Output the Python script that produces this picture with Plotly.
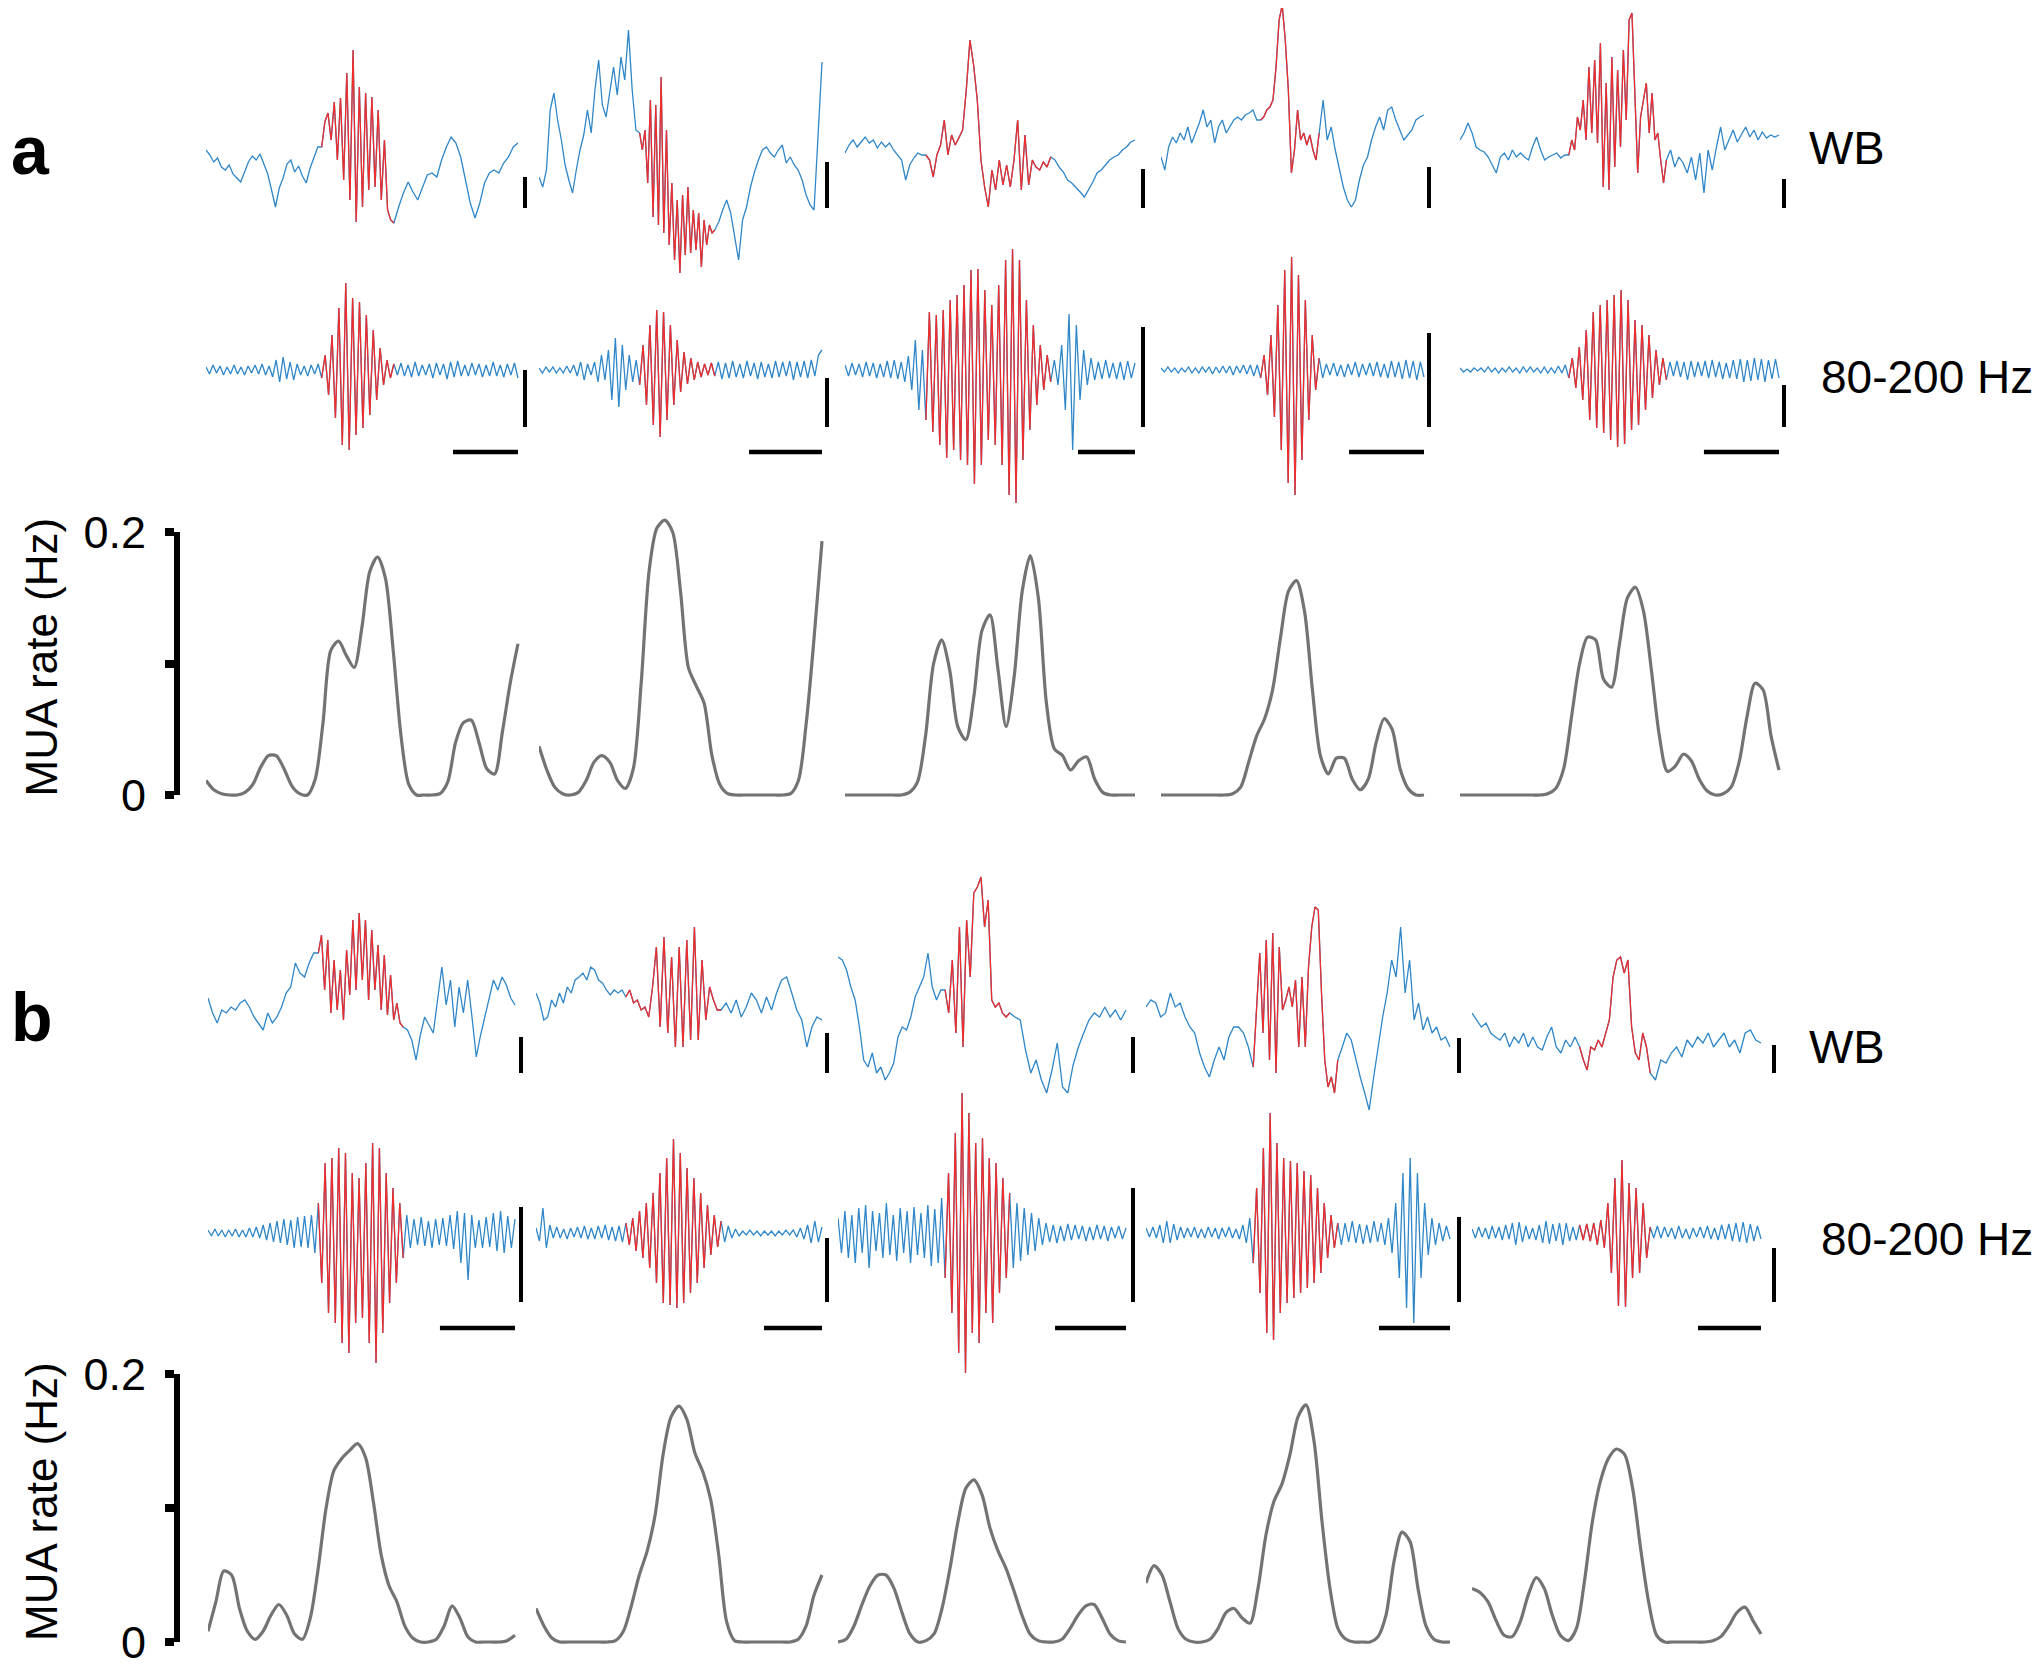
import numpy as np
import plotly.graph_objects as go

W, H = 2041, 1669
FONT = "Liberation Sans, Arial, sans-serif"
BLUE = "#2f86c8"
RED = "#ef2d2d"
GREY = "#737373"

# time base of each example (ms) and ripple event window (onset, offset, ms)
A_DUR = [480, 388, 509, 351, 425]
A_EVENT = [(178, 289), (138, 241), (142, 361), (133, 211), (145, 275)]
B_DUR = [409, 493, 406, 428, 459]
B_EVENT = [(147, 260), (155, 319), (151, 242), (151, 270), (171, 283)]
TIME_BAR_MS = 100

# vertical scale bar lengths (display units)
A_WB_BAR = [31, 46, 39, 41, 29]
A_RIP_BAR = [57, 49, 100, 94, 42]
B_WB_BAR = [36, 40, 36, 35, 28]
B_RIP_BAR = [95, 64, 114, 85, 54]

# wide-band traces: [before event, during event, after event]
a_wb1 = [[0, -5, -12, -8, -17, -20, -15, -24, -28, -32, -22, -12, -6, -10, -4, -14, -24, -40, -57, -38, -28, -14, -10, -22, -16, -26, -33, -18, -8, 3],
         [3, 28, 37, 10, 48, -10, 52, -30, 77, -50, 100, -72, 63, -57, 57, -40, 53, -37, 40, -50, 10, -60, -70],
         [-73, -57, -43, -32, -42, -50, -37, -25, -23, -27, -10, 3, 13, 7, -7, -30, -53, -68, -53, -33, -23, -20, -23, -13, -7, 3, 7]]
a_wb2 = [[-27, -37, -20, 40, 57, 30, 10, -15, -30, -43, -20, 0, 15, 40, 17, 60, 90, 45, 33, 60, 83, 55, 93, 70, 120, 60, 20],
         [17, 0, 20, -33, 50, -67, 45, -75, 73, -83, 20, -95, -33, -110, -50, -123, -45, -105, -37, -103, -60, -100, -63, -117, -70, -95, -75, -83],
         [-80, -72, -60, -50, -63, -85, -110, -70, -57, -37, -22, -10, 0, 3, -3, -7, 0, 5, -13, -7, -15, -20, -30, -45, -55, -60, 20, 88]]
a_wb3 = [[-3, 5, 10, 3, 8, 13, 7, 10, 2, 8, 3, 7, 0, -5, -10, -30, -15, -8, -3, -5],
         [-5, -10, -27, -5, 5, 30, -5, 15, 5, 12, 20, 60, 110, 85, 50, -10, -37, -57, -20, -40, -10, -35, -15, -37, -10, 30, -40, 15, -35, -10, -17, -20, -12, -17],
         [-7, -10, -17, -22, -30, -33, -37, -42, -47, -40, -32, -23, -20, -15, -10, -7, -5, 0, 3, 8, 10]]
a_wb4 = [[-7, -20, 3, 13, 7, 17, 10, 23, 7, 17, 27, 40, 23, 30, 7, 23, 30, 17, 23, 30, 33, 30, 35, 37, 40, 30],
         [30, 33, 40, 43, 50, 83, 130, 145, 110, 60, -23, 0, 40, 10, 17, 5, 15, 0, -10],
         [17, 50, 10, 23, 0, -17, -37, -50, -57, -50, -30, -15, -7, 10, 23, 33, 20, 40, 43, 30, 20, 10, 15, 20, 30, 33, 35]]
a_wb5 = [[10, 17, 27, 17, 3, 0, -2, -7, -15, -23, -7, -3, -10, 0, -7, -3, -7, -10, 3, 13, 0, -10, -7, -5, -3, -8, -5],
         [-5, 10, 0, 33, 20, 50, 10, 83, 17, 90, 7, 107, -37, 67, -40, 93, -17, 80, 3, 100, 30, 130, 137, 50, -23, 33, 50, 67, 17, 57, 10, 17, -10, -33],
         [-10, 0, -17, -7, -13, -23, -7, -30, -3, -43, 0, -20, 3, 23, 0, 10, 20, 8, 15, 23, 13, 20, 10, 18, 12, 15, 13, 15]]

b_wb1 = [[12, -3, -13, 0, -3, 3, 0, 7, 10, 3, -7, -13, -20, -3, -13, -7, 3, 17, 23, 47, 37, 33, 47, 57],
         [57, 75, 20, 70, -3, 50, 0, 40, -10, 60, 15, 90, 20, 97, 30, 90, 10, 80, 20, 65, 0, 55, -5, 35, -10, 7, -13],
         [-17, -20, -30, -50, -25, -7, -15, -23, 10, 43, 5, 30, -17, 23, -3, 30, -7, -47, -25, -7, 10, 30, 20, 33, 25, 12, 5]]
b_wb2 = [[17, 7, -10, -7, 10, 3, 17, 7, 23, 17, 30, 33, 37, 30, 43, 40, 30, 27, 20, 15, 20, 17, 20],
         [13, 20, 7, 10, 0, 3, -7, 23, 63, -17, 73, -23, 53, -37, 63, -37, 70, -30, 83, -30, 50, -10, 23, 10, 0],
         [0, 7, -3, 10, -7, 3, 17, 10, -3, 13, 0, 17, 30, 33, 17, 0, -10, -37, -17, -7, -10]]
b_wb3 = [[53, 50, 40, 23, 10, -17, -50, -57, -43, -63, -57, -70, -63, -53, -27, -17, -20, -7, 13, 23, 33, 57, 23, 10, 20],
         [20, -3, 50, -23, 83, -37, 90, 33, 117, 123, 133, 83, 110, 10, 3, 7, -3, -7],
         [-3, -7, -10, -40, -63, -50, -70, -83, -60, -33, -77, -83, -55, -37, -23, -10, -3, -7, 3, -7, 0, -10, 0]]
b_wb4 = [[3, 10, 7, -7, -3, 17, 3, 7, -7, -17, -23, -43, -57, -67, -50, -37, -50, -27, -17, -17, -23, -37],
         [-57, 0, 57, -23, 70, -50, 77, -63, 63, 0, 10, 23, 3, 30, -37, 33, -37, 43, 83, 103, 100, 17, -50, -77, -67, -83],
         [-50, -37, -23, -30, -50, -67, -83, -100, -67, -37, -7, 17, 50, 33, 83, 17, 50, -10, 7, -20, -7, -23, -17, -30, -27, -37]]
b_wb5 = [[-3, -10, -17, -13, -23, -27, -30, -23, -37, -27, -33, -23, -37, -27, -37, -40, -27, -17, -37, -43, -30, -37, -27],
         [-37, -50, -60, -37, -40, -30, -37, -23, -10, 33, 50, 53, 37, 50, -17, -43, -50, -23, -37],
         [-63, -70, -50, -53, -43, -37, -47, -30, -37, -27, -33, -23, -37, -30, -23, -37, -30, -43, -23, -20, -30, -33]]

# 80-200 Hz filtered traces: [before, during, after]
a_rip1 = [[3, -4, 5, -3, 4, -5, 3, -4, 5, -4, 3, -5, 4, -3, 5, -4, 6, -5, 4, -7, 10, -12, 13, -9, 8, -10, 6, -5, 4, -6, 5, -4, 6],
          [-8, 15, -25, 35, -48, 62, -75, 87, -80, 72, -65, 68, -58, 55, -45, 40, -30, 22, -15, 10, -8],
          [6, -5, 7, -6, 5, -7, 8, -6, 5, -5, 6, -8, 7, -5, 6, -9, 8, -7, 9, -6, 5, -6, 7, -5, 6, -7, 5, -6, 8, -6, 5, -7, 6, -5, 7, -8]]
a_rip2 = [[2, -3, 3, -2, 3, -3, 2, -3, 4, -3, 5, -6, 8, -10, 6, -5, 8, -12, 15, -10, 20, -30, 32, -37, 25, -20, 15, -12, 10],
          [-15, 25, -35, 45, -55, 60, -67, 58, -50, 45, -35, 30, -22, 18, -14, 12, -10, 8, -7, 6, -5, 7],
          [-6, 8, -9, 7, -8, 9, -7, 6, -8, 9, -6, 7, -9, 8, -7, 6, -8, 9, -7, 8, -6, 9, -10, 8, -7, 9, -8, 10, -6, 15, 20]]
a_rip3 = [[5, -6, 7, -5, 6, -7, 8, -6, 7, -8, 6, -7, 9, -8, 10, -9, 8, -12, 14, -20, 30, -40, 20],
          [-50, 58, -62, 55, -75, 60, -88, 70, -80, 75, -90, 85, -95, 100, -114, 101, -95, 80, -70, 65, -75, 85, -95, 110, -125, 121, -133, 110, -90, 70, -60, 45, -35, 25, -20, 15],
          [-12, 10, -15, 25, -40, 56, -80, 45, -30, 20, -15, 12, -10, 8, -9, 10, -8, 7, -9, 8, -10, 9, -8, 7]]
a_rip4 = [[2, -2, 3, -2, 2, -3, 2, -2, 3, -3, 2, -3, 3, -2, 3, -4, 3, -3, 4, -3, 4, -5, 4, -3, 5, -4, 5, -6, 5],
          [-8, 15, -25, 35, -47, 65, -80, 100, -113, 113, -125, 95, -90, 70, -50, 35, -20],
          [12, -8, 6, -5, 7, -6, 5, -7, 6, -5, 8, -7, 6, -5, 7, -6, 8, -7, 6, -8, 9, -7, 8, -9, 10, -8, 9, -10, 8, -7]]
a_rip5 = [[2, -2, 1, -2, 2, -1, 2, -2, 3, -2, 2, -3, 2, -2, 3, -2, 2, -3, 3, -2, 3, -2, 2, -3, 3, -3, 2, -3, 4, -3, 5],
          [-8, 12, -18, 23, -30, 40, -50, 58, -58, 65, -63, 70, -70, 75, -77, 80, -74, 70, -60, 50, -55, 45, -40, 35, -28, 20, -15, 12],
          [-10, 8, -6, 9, -7, 8, -10, 9, -7, 8, -6, 9, -8, 10, -7, 8, -9, 7, -8, 10, -9, 11, -12, 10, -11, 12, -10, 11, -12, 10, -9, 11, -8]]

b_rip1 = [[3, -3, 4, -3, 3, -4, 3, -3, 4, -4, 3, -4, 5, -4, 6, -5, 8, -7, 10, -9, 12, -10, 14, -12, 13, -15, 16, -14, 17, -15, 18, -20],
          [30, -50, 70, -80, 75, -90, 85, -110, 80, -120, 60, -90, 55, -85, 70, -110, 90, -130, 85, -100, 60, -70, 45, -50, 30],
          [-25, 18, -15, 14, -12, 16, -13, 12, -15, 14, -12, 15, -13, 18, -16, 22, -30, 20, -47, 18, -15, 13, -15, 16, -14, 20, -18, 22, -20, 17, -15, 14]]
b_rip2 = [[5, -8, 25, -15, 8, -5, 6, -5, 4, -6, 5, -4, 6, -5, 7, -6, 5, -6, 7, -5, 8, -7, 6, -8, 7, -9],
          [10, -12, 15, -18, 22, -25, 30, -35, 40, -50, 60, -70, 75, -72, 94, -75, 80, -70, 65, -60, 55, -50, 40, -35, 28, -22, 18, -14],
          [12, -9, 7, -5, 4, -3, 2, -2, 3, -2, 2, -3, 2, -2, 2, -3, 2, -2, 3, -2, 3, -4, 5, -6, 8, -10, 12, -9, 6]]
b_rip3 = [[15, -20, 22, -25, 18, -30, 25, -20, 28, -35, 22, -18, 20, -25, 30, -22, 18, -28, 25, -20, 22, -30, 26, -22, 20, -25, 28, -33, 24, -30, 35],
          [-45, 60, -80, 100, -120, 140, -140, 120, -100, 90, -110, 95, -80, 75, -90, 70, -60, 55, -45],
          [40, -35, 30, -28, 25, -22, 20, -18, 15, -12, 10, -9, 8, -10, 7, -8, 9, -7, 8, -6, 7, -8, 6, -7, 8, -6, 7, -8, 6, -5, 7, -6, 5]]
b_rip4 = [[5, -4, 6, -5, 8, -10, 12, -10, 9, -7, 6, -5, 5, -4, 6, -5, 4, -5, 6, -4, 5, -6, 5, -4, 6, -5, 4, -6, 8, -10, 15],
          [-30, 45, -60, 85, -100, 120, -107, 90, -80, 75, -70, 72, -65, 70, -60, 62, -55, 58, -50, 45, -40, 30, -25, 18, -15],
          [10, -12, 10, -9, 12, -10, 9, -11, 8, -10, 12, -9, 10, -12, 15, -20, 30, -45, 60, -75, 75, -90, 60, -45, 30, -22, 15, -12, 10, -8, 7, -6]]
b_rip5 = [[4, -5, 6, -4, 5, -6, 7, -5, 6, -7, 8, -6, 10, -12, 11, -9, 7, -6, 5, -7, 8, -10, 12, -11, 9, -8, 10, -12, 10, -8, 6, -7],
          [8, -7, 9, -8, 10, -12, 13, -15, 30, -40, 55, -73, 73, -74, 50, -45, 45, -40, 30, -25],
          [6, -5, 7, -5, 6, -4, 5, -6, 7, -5, 4, -6, 5, -4, 6, -5, 7, -6, 5, -7, 8, -6, 9, -8, 10, -9, 11, -10, 9, -8, 7, -6]]

# MUA rate (Hz), evenly sampled over each example
a_mua1 = [0.011, 0.004, 0.001, 0.0, 0.0, 0.002, 0.008, 0.021, 0.030, 0.030, 0.020, 0.007, 0.001, 0.0, 0.012, 0.055, 0.110, 0.117, 0.106, 0.097, 0.128,
          0.170, 0.181, 0.165, 0.110, 0.045, 0.008, 0.0, 0.0, 0.0, 0.001, 0.010, 0.040, 0.055, 0.057, 0.040, 0.020, 0.016, 0.048, 0.085, 0.115]
a_mua2 = [0.037, 0.019, 0.006, 0.001, 0.0, 0.002, 0.011, 0.025, 0.030, 0.025, 0.011, 0.005, 0.020, 0.085, 0.170, 0.203, 0.209, 0.200, 0.155, 0.097,
          0.083, 0.070, 0.030, 0.008, 0.001, 0.0, 0.0, 0.0, 0.0, 0.0, 0.0, 0.0, 0.001, 0.011, 0.055, 0.120, 0.193]
a_mua3 = [0.0, 0.0, 0.0, 0.0, 0.0, 0.0, 0.0, 0.0, 0.002, 0.010, 0.045, 0.100, 0.118, 0.095, 0.052, 0.042, 0.075, 0.125, 0.137, 0.095, 0.052,
          0.090, 0.155, 0.182, 0.150, 0.070, 0.035, 0.030, 0.019, 0.026, 0.029, 0.012, 0.002, 0.0, 0.0, 0.0, 0.0]
a_mua4 = [0.0, 0.0, 0.0, 0.0, 0.0, 0.0, 0.0, 0.0, 0.0, 0.001, 0.006, 0.025, 0.045, 0.058, 0.080, 0.120, 0.155, 0.163, 0.140, 0.080, 0.030,
          0.016, 0.028, 0.028, 0.012, 0.004, 0.012, 0.040, 0.058, 0.050, 0.020, 0.005, 0.0, 0.0]
a_mua5 = [0.0, 0.0, 0.0, 0.0, 0.0, 0.0, 0.0, 0.0, 0.0, 0.0, 0.0, 0.001, 0.005, 0.020, 0.060, 0.100, 0.120, 0.118, 0.088, 0.082, 0.115,
          0.150, 0.158, 0.140, 0.095, 0.045, 0.018, 0.022, 0.031, 0.026, 0.012, 0.003, 0.0, 0.001, 0.006, 0.025, 0.060, 0.085, 0.080, 0.045, 0.019]

b_mua1 = [0.008, 0.030, 0.053, 0.050, 0.025, 0.008, 0.002, 0.008, 0.020, 0.028, 0.020, 0.006, 0.002, 0.018, 0.055, 0.100, 0.128, 0.137, 0.143,
          0.148, 0.138, 0.105, 0.065, 0.042, 0.030, 0.012, 0.003, 0.0, 0.0, 0.002, 0.012, 0.027, 0.018, 0.004, 0.0, 0.0, 0.0, 0.0, 0.001, 0.005]
b_mua2 = [0.025, 0.012, 0.003, 0.0, 0.0, 0.0, 0.0, 0.0, 0.0, 0.0, 0.001, 0.008, 0.027, 0.050, 0.068, 0.095, 0.140, 0.168, 0.176, 0.166, 0.141,
          0.127, 0.106, 0.065, 0.015, 0.001, 0.0, 0.0, 0.0, 0.0, 0.0, 0.0, 0.0, 0.002, 0.012, 0.035, 0.050]
b_mua3 = [0.0, 0.002, 0.012, 0.028, 0.042, 0.050, 0.050, 0.040, 0.022, 0.006, 0.0, 0.001, 0.006, 0.025, 0.055, 0.090, 0.115, 0.121, 0.110,
          0.085, 0.068, 0.055, 0.038, 0.020, 0.006, 0.001, 0.0, 0.0, 0.002, 0.010, 0.020, 0.027, 0.028, 0.018, 0.006, 0.001, 0.0]
b_mua4 = [0.044, 0.057, 0.050, 0.030, 0.010, 0.002, 0.0, 0.0, 0.002, 0.010, 0.022, 0.025, 0.018, 0.014, 0.040, 0.080, 0.105, 0.118, 0.140,
          0.168, 0.177, 0.150, 0.090, 0.040, 0.010, 0.002, 0.0, 0.0, 0.0, 0.004, 0.020, 0.060, 0.082, 0.075, 0.040, 0.012, 0.002, 0.0, 0.0]
b_mua5 = [0.040, 0.037, 0.030, 0.016, 0.005, 0.004, 0.015, 0.035, 0.048, 0.040, 0.020, 0.005, 0.001, 0.010, 0.045, 0.090, 0.120, 0.137, 0.144,
          0.140, 0.115, 0.070, 0.030, 0.005, 0.0, 0.0, 0.0, 0.0, 0.0, 0.0, 0.001, 0.004, 0.012, 0.022, 0.026, 0.016, 0.006]

# ---- placement (pixels of the photographed page) ----
OFF_X, OFF_Y = 9, 8   # page margin around the plot div
PANELS = [
    dict(label="a", label_y=150,
         cols=[(207, 519, 526), (540, 823, 828), (846, 1136, 1144), (1162, 1425, 1430), (1461, 1780, 1785)],
         dur=A_DUR, event=A_EVENT, wb=[a_wb1, a_wb2, a_wb3, a_wb4, a_wb5],
         rip=[a_rip1, a_rip2, a_rip3, a_rip4, a_rip5], mua=[a_mua1, a_mua2, a_mua3, a_mua4, a_mua5],
         wb_bar=A_WB_BAR, rip_bar=A_RIP_BAR,
         wb_base=150, rip_base=370, wb_bar_bottom=208, rip_bar_bottom=427, hbar_y=452,
         mua_zero=795, mua_top=532, wb_text_y=148, rip_text_y=377),
    dict(label="b", label_y=1017,
         cols=[(209, 516, 522), (537, 823, 828), (839, 1127, 1134), (1147, 1451, 1460), (1473, 1762, 1775)],
         dur=B_DUR, event=B_EVENT, wb=[b_wb1, b_wb2, b_wb3, b_wb4, b_wb5],
         rip=[b_rip1, b_rip2, b_rip3, b_rip4, b_rip5], mua=[b_mua1, b_mua2, b_mua3, b_mua4, b_mua5],
         wb_bar=B_WB_BAR, rip_bar=B_RIP_BAR,
         wb_base=1010, rip_base=1233, wb_bar_bottom=1073, rip_bar_bottom=1302, hbar_y=1328,
         mua_zero=1642, mua_top=1374, wb_text_y=1046, rip_text_y=1239),
]
MUA_AXIS_X = 178


def px(x):
    return (x - OFF_X) / W


def py(y):
    return 1 - (y - OFF_Y) / H


def axname(kind, n):
    return f"{kind}axis" if n == 1 else f"{kind}axis{n}"


def axref(kind, n):
    return kind if n == 1 else f"{kind}{n}"


def split_trace(pieces, dur, on, off):
    pre, ev, post = pieces
    t = np.concatenate([np.linspace(0, on, len(pre), endpoint=False),
                        np.linspace(on, off, len(ev), endpoint=False),
                        np.linspace(off, dur, len(post))])
    y = np.array(pre + ev + post, dtype=float)
    i0, i1 = len(pre), len(pre) + len(ev) + 1
    return t, y, t[i0:i1], y[i0:i1]


fig = go.Figure()
layout = {}
annotations = []

for p, P in enumerate(PANELS):
    yw, yr, ym, yd = 1 + 4 * p, 2 + 4 * p, 3 + 4 * p, 4 + 4 * p
    wb0 = P["wb_base"] - OFF_Y
    rp0 = P["rip_base"] - OFF_Y
    mz0 = P["mua_zero"] - OFF_Y
    layout[axname("y", yw)] = dict(domain=[0, 1], range=[wb0 - H, wb0], visible=False)
    layout[axname("y", yr)] = dict(domain=[0, 1], range=[rp0 - H, rp0], visible=False)
    k = 0.2 / (P["mua_zero"] - P["mua_top"])
    layout[axname("y", ym)] = dict(domain=[0, 1], range=[(mz0 - H) * k, mz0 * k], visible=False)
    layout[axname("y", yd)] = dict(
        domain=[py(P["mua_zero"]), py(P["mua_top"])], range=[0, 0.2],
        anchor="free", position=px(MUA_AXIS_X), side="left", automargin=False,
        showline=True, linewidth=6, linecolor="black", showgrid=False, zeroline=False,
        ticks="outside", ticklen=9, tickwidth=8, tickcolor="black", ticklabelstandoff=10,
        tickvals=[0, 0.1, 0.2], ticktext=["0", "", "0.2"],
        tickfont=dict(size=45, family=FONT, color="black"))

    for i in range(5):
        xn = 1 + 5 * p + i
        x0, x1, xb = P["cols"][i]
        dur = P["dur"][i]
        on, off = P["event"][i]
        mspp = dur / (x1 - x0)
        right = xb + 6
        layout[axname("x", xn)] = dict(domain=[px(x0), px(right)], range=[0, (right - x0) * mspp],
                                      visible=False, anchor=axref("y", yw), automargin=False)
        xr = axref("x", xn)

        for pieces, yn in ((P["wb"][i], yw), (P["rip"][i], yr)):
            t, y, te, ye = split_trace(pieces, dur, on, off)
            fig.add_trace(go.Scatter(x=t, y=y, mode="lines", line=dict(color=BLUE, width=1.3),
                                     xaxis=xr, yaxis=axref("y", yn), hoverinfo="skip"))
            fig.add_trace(go.Scatter(x=te, y=ye, mode="lines", line=dict(color=RED, width=1.3),
                                     xaxis=xr, yaxis=axref("y", yn), hoverinfo="skip"))

        mua = P["mua"][i]
        fig.add_trace(go.Scatter(x=np.linspace(0, dur, len(mua)), y=mua, mode="lines",
                                 line=dict(color=GREY, width=3.2, shape="spline", smoothing=0.8),
                                 xaxis=xr, yaxis=axref("y", ym), hoverinfo="skip"))

        # scale bars
        xbar = (xb - x0) * mspp
        wb_bot = P["wb_base"] - P["wb_bar_bottom"]
        fig.add_trace(go.Scatter(x=[xbar, xbar], y=[wb_bot, wb_bot + P["wb_bar"][i]], mode="lines",
                                 line=dict(color="black", width=4), xaxis=xr, yaxis=axref("y", yw),
                                 hoverinfo="skip"))
        rip_bot = P["rip_base"] - P["rip_bar_bottom"]
        fig.add_trace(go.Scatter(x=[xbar, xbar], y=[rip_bot, rip_bot + P["rip_bar"][i]], mode="lines",
                                 line=dict(color="black", width=4), xaxis=xr, yaxis=axref("y", yr),
                                 hoverinfo="skip"))
        hy = P["rip_base"] - P["hbar_y"]
        fig.add_trace(go.Scatter(x=[dur - TIME_BAR_MS, dur], y=[hy, hy], mode="lines",
                                 line=dict(color="black", width=4.5), xaxis=xr, yaxis=axref("y", yr),
                                 hoverinfo="skip"))

    # invisible trace so the MUA rate axis is drawn
    fig.add_trace(go.Scatter(x=[0], y=[0], mode="markers", marker=dict(opacity=0),
                             xaxis=axref("x", 1 + 5 * p), yaxis=axref("y", yd), hoverinfo="skip"))

    annotations += [
        dict(text="<b>%s</b>" % P["label"], x=px(OFF_X + 1), y=py(P["label_y"]), xanchor="left", yanchor="middle",
             font=dict(size=68, family=FONT, color="black")),
        dict(text="WB", x=px(1808), y=py(P["wb_text_y"]), xanchor="left", yanchor="middle",
             font=dict(size=47, family=FONT, color="black")),
        dict(text="80-200 Hz", x=px(2036), y=py(P["rip_text_y"]), xanchor="right", yanchor="middle",
             font=dict(size=46, family=FONT, color="black")),
        dict(text="MUA rate (Hz)", textangle=-90, x=px(42),
             y=py((P["mua_zero"] + P["mua_top"]) / 2 - 6), xanchor="center", yanchor="middle",
             font=dict(size=44, family=FONT, color="black")),
    ]

for a in annotations:
    a.update(xref="paper", yref="paper", showarrow=False)

fig.update_layout(**layout)
fig.update_layout(width=W, height=H, margin=dict(l=0, r=0, t=0, b=0, pad=0, autoexpand=False),
                  plot_bgcolor="rgba(0,0,0,0)", paper_bgcolor="white", showlegend=False,
                  hovermode=False, annotations=annotations, font=dict(family=FONT))

fig.write_html("out.html")
